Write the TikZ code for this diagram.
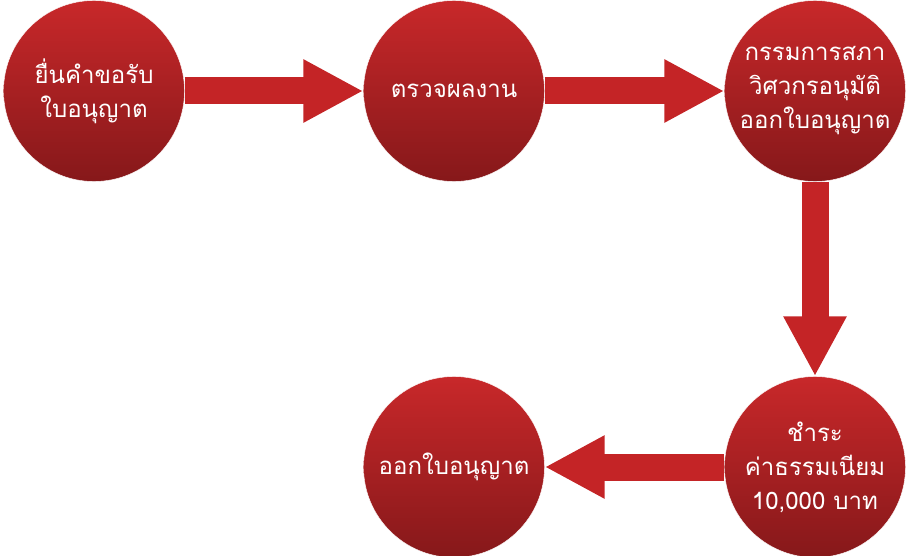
\documentclass[tikz,border=0pt]{standalone}
\usepackage{fontspec}
\newfontfamily\thaifont[Script=Thai]{Loma}
\usetikzlibrary{arrows.meta}
\definecolor{steptop}{HTML}{C8282A}
\definecolor{stepbottom}{HTML}{86181A}
\definecolor{flowred}{HTML}{C42426}
\tikzset{
	stepnode/.style={circle,minimum size=181pt,inner sep=0pt,draw=white,thin,
		top color=steptop,bottom color=stepbottom,text=white,align=center,
		font=\thaifont\fontsize{24}{34}\selectfont},
	flow/.style={draw=flowred,line width=27pt,
		-{Triangle[length=60pt,width=59pt,color=flowred]}}
}
\begin{document}
\begin{tikzpicture}[x=1pt,y=-1pt]
	\useasboundingbox (0,0) rectangle (912,556);
	\node[stepnode] (ask) at (94,91) {ยื่นคำขอรับ\\ใบอนุญาต};
	\node[stepnode] (check) at (454,91) {ตรวจผลงาน};
	\node[stepnode] (board) at (815,91) {กรรมการสภา\\วิศวกรอนุมัติ\\ออกใบอนุญาต};
	\node[stepnode] (fee) at (815,467) {ชำระ\\ค่าธรรมเนียม\\10,000 บาท};
	\node[stepnode] (issue) at (454,467) {ออกใบอนุญาต};
	% connectors
	\draw[flow] (ask) -- (check);
	\draw[flow] (check) -- (board);
	\draw[flow] (board) -- (fee);
	\draw[flow] (fee) -- (issue);
\end{tikzpicture}
\end{document}
